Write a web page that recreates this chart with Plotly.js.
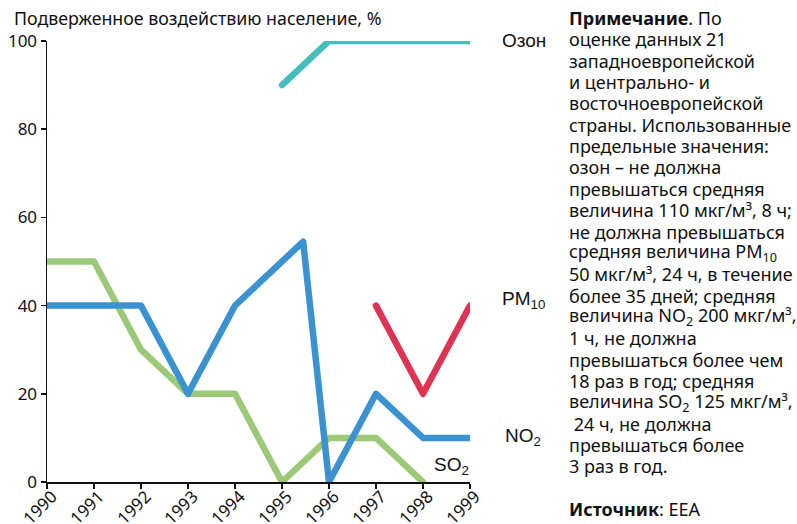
<!DOCTYPE html>
<html><head><meta charset="utf-8">
<script src="https://cdn.plot.ly/plotly-3.0.1.min.js"></script>
<style>body{margin:0;background:#fff}#c{width:797px;height:524px}</style>
</head><body><div id="c"></div>
<script>
const ozoneYears = [1995, 1996, 1997, 1998, 1999];
const ozoneVals  = [90, 100, 100, 100, 100];
const pm10Years  = [1997, 1998, 1999];
const pm10Vals   = [40, 20, 40];
const no2Years   = [1990, 1991, 1992, 1993, 1994, 1995.45, 1996, 1997, 1998, 1999];
const no2Vals    = [40, 40, 40, 20, 40, 54.5, 0, 20, 10, 10];
const so2Years   = [1990, 1991, 1992, 1993, 1994, 1995, 1996, 1997, 1998];
const so2Vals    = [50, 50, 30, 20, 20, 0, 10, 10, 0];
const yearTicks  = [1990,1991,1992,1993,1994,1995,1996,1997,1998,1999];
const yTicks     = [0,20,40,60,80,100];
const chartTitle = 'Подверженное воздействию население, %';
const seriesLabels = ['Озон', 'PM<sub>10</sub>', 'NO<sub>2</sub>', 'SO<sub>2</sub>'];
const noteLines = [
 '<b>Примечание</b>. По',
 'оценке данных 21',
 'западноевропейской',
 'и центрально- и',
 'восточноевропейской',
 'страны. Использованные',
 'предельные значения:',
 'озон – не должна',
 'превышаться средняя',
 'величина 110 мкг/м³, 8 ч;',
 'не должна превышаться',
 'средняя величина PM<sub>10</sub>',
 '50 мкг/м³, 24 ч, в течение',
 'более 35 дней; средняя',
 'величина NO<sub>2</sub> 200 мкг/м³,',
 '1 ч, не должна',
 'превышаться более чем',
 '18 раз в год; средняя',
 'величина SO<sub>2</sub> 125 мкг/м³,',
 ' 24 ч, не должна',
 'превышаться более',
 '3 раз в год.',
 '',
 '<b>Источник</b>: EEA'
];

const L=47, R=470, T=41, B=482, W=797, H=524;
const px = x => (x - L) / (R - L);
const py = y => (B - y) / (B - T);
const FONT = 'Noto Sans, Open Sans, sans-serif';

function tr(x, y, color){
  return {x:x, y:y, type:'scatter', mode:'lines', cliponaxis:false,
    line:{color:color, width:6.5}, hoverinfo:'skip', showlegend:false};
}
const data = [
  tr(so2Years, so2Vals, '#9cc977'),
  tr(no2Years, no2Vals, '#3b92d1'),
  tr(pm10Years, pm10Vals, '#de3352'),
  tr(ozoneYears, ozoneVals, '#45bcbe')
];

const ann = [];
ann.push({text:chartTitle, xref:'paper', yref:'paper', x:px(12), y:py(18), xanchor:'left', yanchor:'middle', showarrow:false, font:{family:FONT, size:17.8, color:'#111'}});
const labPos = [[500,40],[500,300],[503,437],[432,466]];
seriesLabels.forEach((t,i)=>{
  ann.push({text:t, xref:'paper', yref:'paper', x:px(labPos[i][0]), y:py(labPos[i][1]), xanchor:'left', yanchor:'middle', showarrow:false, font:{family:'Liberation Sans, Arial, sans-serif', size:19, color:'#111'}});
});
noteLines.forEach((t,i)=>{
  if(!t) return;
  ann.push({text:t, xref:'paper', yref:'paper', x:px(567), y:py(18 + i*21.35), xanchor:'left', yanchor:'middle', showarrow:false, font:{family:FONT, size:18, color:'#111'}});
});
const yearStep = (R - L) / (yearTicks.length - 1);
yearTicks.forEach((v,i)=>{
  ann.push({text:String(v), xref:'paper', yref:'paper', x:px(L + i*yearStep - 8), y:py(507), xanchor:'center', yanchor:'middle', textangle:-45, showarrow:false, font:{family:FONT, size:17, color:'#111'}});
});

const layout = {
  width:W, height:H, margin:{l:L, r:W-R, t:T, b:H-B, pad:0},
  paper_bgcolor:'#fff', plot_bgcolor:'#fff', showlegend:false,
  font:{family:FONT, color:'#111'},
  xaxis:{range:[1990,1999], tickvals:yearTicks, showticklabels:false,
    showgrid:false, zeroline:false, showline:true, linecolor:'#111', linewidth:1.5,
    ticks:'outside', ticklen:5, tickwidth:1.5, tickcolor:'#111'},
  yaxis:{range:[0,100], tickvals:yTicks, showgrid:false, zeroline:false, showline:true, linecolor:'#111', linewidth:1.5,
    ticks:'outside', ticklen:5, tickwidth:1.5, tickcolor:'#111', tickfont:{family:FONT, size:17, color:'#111'}},
  annotations:ann
};
Plotly.newPlot('c', data, layout, {staticPlot:true, displayModeBar:false}).then(()=>{
  document.querySelectorAll('.scatterlayer .js-line').forEach(p=>{
    p.style.strokeLinecap='round'; p.style.strokeLinejoin='round';
  });
});
</script></body></html>
